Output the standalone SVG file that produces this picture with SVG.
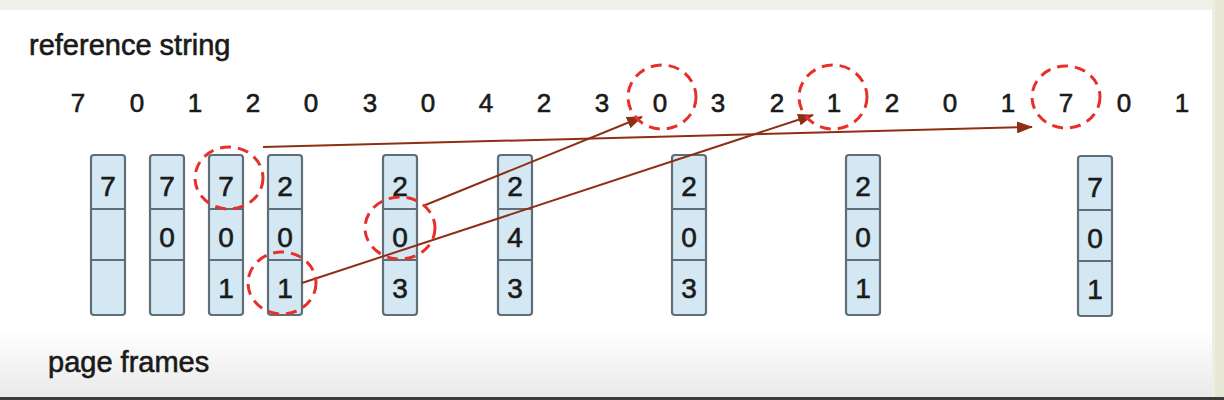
<svg xmlns="http://www.w3.org/2000/svg" width="1224" height="400" viewBox="0 0 1224 400">
<defs>
<linearGradient id="bot" x1="0" y1="0" x2="0" y2="1">
<stop offset="0" stop-color="#ffffff"/>
<stop offset="1" stop-color="#e9e9e9"/>
</linearGradient>
<marker id="ah" markerWidth="16" markerHeight="12" refX="15" refY="6" orient="auto" markerUnits="userSpaceOnUse">
<path d="M0,0 L16,6 L0,12 Z" fill="#8e2f14"/>
</marker>
<style>
.t{font-family:"Liberation Sans",Arial,sans-serif;fill:#1a1a1a;stroke:#1a1a1a;stroke-width:0.6}
.lbl{font-size:29px}
.ref{font-size:26px;text-anchor:middle}
.cell{fill:#d3e8f3;stroke:#5f6e77;stroke-width:2.2}
.sep{stroke:#5f6e77;stroke-width:2.2}
.d{font-size:28px;text-anchor:middle}
.circ{fill:none;stroke:#e8302a;stroke-width:3;stroke-dasharray:11 7}
.arr{stroke:#8e2f14;stroke-width:2;fill:none;marker-end:url(#ah)}
</style>
</defs>
<rect x="0" y="0" width="1224" height="400" fill="#ffffff"/>
<rect x="0" y="0" width="1224" height="10" fill="#f1f1e9"/>
<rect x="0" y="330" width="1212" height="68" fill="url(#bot)"/>
<rect x="1212" y="0" width="12" height="400" fill="#eeeee3"/>
<rect x="1215" y="0" width="9" height="400" fill="#e7e7d8"/>
<rect x="0" y="397" width="1224" height="3" fill="#3c3c3c"/>

<text class="t lbl" x="29" y="55">reference string</text>
<text class="t lbl" x="48" y="372">page frames</text>

<g id="refstring">
<text class="t ref" x="78" y="112">7</text>
<text class="t ref" x="137" y="112">0</text>
<text class="t ref" x="195" y="112">1</text>
<text class="t ref" x="253" y="112">2</text>
<text class="t ref" x="311" y="112">0</text>
<text class="t ref" x="370" y="112">3</text>
<text class="t ref" x="428" y="112">0</text>
<text class="t ref" x="486" y="112">4</text>
<text class="t ref" x="544" y="112">2</text>
<text class="t ref" x="602" y="112">3</text>
<text class="t ref" x="660" y="112">0</text>
<text class="t ref" x="718" y="112">3</text>
<text class="t ref" x="777" y="112">2</text>
<text class="t ref" x="834" y="112">1</text>
<text class="t ref" x="892" y="112">2</text>
<text class="t ref" x="950" y="112">0</text>
<text class="t ref" x="1008" y="112">1</text>
<text class="t ref" x="1066" y="112">7</text>
<text class="t ref" x="1124" y="112">0</text>
<text class="t ref" x="1182" y="112">1</text>
</g>

<g id="frame1">
<rect class="cell" x="91" y="155" width="34" height="160" rx="3"/>
<line class="sep" x1="91" y1="209" x2="125" y2="209"/>
<line class="sep" x1="91" y1="260" x2="125" y2="260"/>
<text class="t d" x="108" y="196">7</text>
</g>
<g id="frame2">
<rect class="cell" x="150" y="155" width="34" height="160" rx="3"/>
<line class="sep" x1="150" y1="209" x2="184" y2="209"/>
<line class="sep" x1="150" y1="260" x2="184" y2="260"/>
<text class="t d" x="167" y="196">7</text>
<text class="t d" x="167" y="247">0</text>
</g>
<g id="frame3">
<rect class="cell" x="209" y="155" width="34" height="160" rx="3"/>
<line class="sep" x1="209" y1="209" x2="243" y2="209"/>
<line class="sep" x1="209" y1="260" x2="243" y2="260"/>
<text class="t d" x="226" y="196">7</text>
<text class="t d" x="226" y="247">0</text>
<text class="t d" x="226" y="298">1</text>
</g>
<g id="frame4">
<rect class="cell" x="268" y="155" width="34" height="160" rx="3"/>
<line class="sep" x1="268" y1="209" x2="302" y2="209"/>
<line class="sep" x1="268" y1="260" x2="302" y2="260"/>
<text class="t d" x="285" y="196">2</text>
<text class="t d" x="285" y="247">0</text>
<text class="t d" x="285" y="298">1</text>
</g>
<g id="frame5">
<rect class="cell" x="383" y="155" width="34" height="160" rx="3"/>
<line class="sep" x1="383" y1="209" x2="417" y2="209"/>
<line class="sep" x1="383" y1="260" x2="417" y2="260"/>
<text class="t d" x="400" y="196">2</text>
<text class="t d" x="400" y="247">0</text>
<text class="t d" x="400" y="298">3</text>
</g>
<g id="frame6">
<rect class="cell" x="498" y="155" width="34" height="160" rx="3"/>
<line class="sep" x1="498" y1="209" x2="532" y2="209"/>
<line class="sep" x1="498" y1="260" x2="532" y2="260"/>
<text class="t d" x="515" y="196">2</text>
<text class="t d" x="515" y="247">4</text>
<text class="t d" x="515" y="298">3</text>
</g>
<g id="frame7">
<rect class="cell" x="672" y="155" width="34" height="160" rx="3"/>
<line class="sep" x1="672" y1="209" x2="706" y2="209"/>
<line class="sep" x1="672" y1="260" x2="706" y2="260"/>
<text class="t d" x="689" y="196">2</text>
<text class="t d" x="689" y="247">0</text>
<text class="t d" x="689" y="298">3</text>
</g>
<g id="frame8">
<rect class="cell" x="846" y="155" width="34" height="160" rx="3"/>
<line class="sep" x1="846" y1="209" x2="880" y2="209"/>
<line class="sep" x1="846" y1="260" x2="880" y2="260"/>
<text class="t d" x="863" y="196">2</text>
<text class="t d" x="863" y="247">0</text>
<text class="t d" x="863" y="298">1</text>
</g>
<g id="frame9">
<rect class="cell" x="1078" y="156" width="34" height="160" rx="3"/>
<line class="sep" x1="1078" y1="210" x2="1112" y2="210"/>
<line class="sep" x1="1078" y1="261" x2="1112" y2="261"/>
<text class="t d" x="1095" y="197">7</text>
<text class="t d" x="1095" y="248">0</text>
<text class="t d" x="1095" y="299">1</text>
</g>

<g id="connectors">
<line class="arr" x1="263" y1="147" x2="1032" y2="127"/>
<line class="arr" x1="302" y1="283" x2="813" y2="115"/>
<line class="arr" x1="423" y1="206" x2="642" y2="117"/>
</g>

<g id="highlights">
<ellipse class="circ" cx="229" cy="178" rx="34" ry="31"/>
<ellipse class="circ" cx="282" cy="283" rx="34" ry="31"/>
<ellipse class="circ" cx="400" cy="228" rx="35" ry="31"/>
<ellipse class="circ" cx="662" cy="97" rx="34" ry="32"/>
<ellipse class="circ" cx="833" cy="97" rx="34" ry="32"/>
<ellipse class="circ" cx="1066" cy="97" rx="34" ry="31"/>
</g>
</svg>
